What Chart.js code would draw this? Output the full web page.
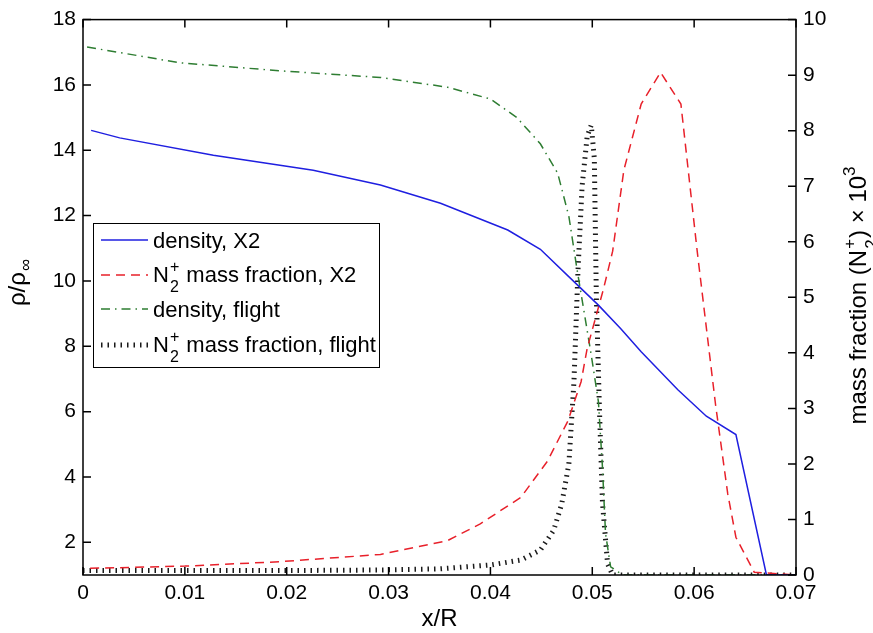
<!DOCTYPE html>
<html lang="en">
<head>
<meta charset="UTF-8">
<title>Density and N2+ mass fraction</title>
<script src="https://cdn.jsdelivr.net/npm/chart.js"></script>
<style>
  html, body { margin: 0; padding: 0; background: #fff; }
  #wrap { width: 873px; height: 633px; }
</style>
</head>
<body>
<div id="wrap"><canvas id="chart" width="873" height="633"></canvas></div>
<script>
// values (x/R, rho/rho_inf on the left, mass fraction x 1e3 on the right)
const xDensityX2 = [0.0008, 0.0036, 0.0128, 0.0226, 0.0292, 0.0351, 0.0417, 0.0449, 0.0482, 0.0506, 0.0528, 0.0548, 0.0584, 0.0612, 0.0641, 0.0671, 0.070];
const densityX2  = [14.61, 14.38, 13.85, 13.39, 12.94, 12.38, 11.56, 10.97, 9.98, 9.26, 8.54, 7.83, 6.67, 5.86, 5.30, 1.0, 1.0];

const xN2X2 = [0.0007, 0.010, 0.0194, 0.0292, 0.0358, 0.039, 0.043, 0.0456, 0.0476, 0.0489, 0.0495, 0.0511, 0.052, 0.0531, 0.0548, 0.0567, 0.0587, 0.0603, 0.0621, 0.0633, 0.0641, 0.0659, 0.070];
const n2X2  = [0.12, 0.16, 0.24, 0.37, 0.62, 0.92, 1.40, 2.05, 2.77, 3.48, 4.08, 5.15, 5.83, 7.29, 8.48, 9.05, 8.48, 5.83, 3.07, 1.46, 0.68, 0.05, 0];

const xDensityFlight = [0.0004, 0.0095, 0.0194, 0.0292, 0.0358, 0.040, 0.0426, 0.0449, 0.0466, 0.0477, 0.0485, 0.0499, 0.0506, 0.051, 0.0513, 0.0518, 0.053, 0.070];
const densityFlight  = [17.16, 16.68, 16.43, 16.23, 15.93, 15.57, 15.0, 14.2, 13.3, 11.98, 10.36, 7.73, 6.31, 4.29, 2.27, 1.25, 1.0, 1.0];

const xN2Flight = [0, 0.010, 0.020, 0.0292, 0.035, 0.040, 0.043, 0.0449, 0.0462, 0.047, 0.0477, 0.048, 0.0482, 0.0486, 0.049, 0.0495, 0.0499, 0.0502, 0.0504, 0.0507, 0.051, 0.0515, 0.052, 0.070];
const n2Flight  = [0.08, 0.08, 0.08, 0.09, 0.11, 0.18, 0.27, 0.45, 0.8, 1.28, 2.0, 2.89, 3.48, 5.5, 7.0, 7.9, 8.1, 7.5, 5.0, 3.0, 1.3, 0.2, 0, 0];

const xTicks = [0, 0.01, 0.02, 0.03, 0.04, 0.05, 0.06, 0.07];
const xTickLabels = ['0', '0.01', '0.02', '0.03', '0.04', '0.05', '0.06', '0.07'];
const leftTicks = [2, 4, 6, 8, 10, 12, 14, 16, 18];
const rightTicks = [0, 1, 2, 3, 4, 5, 6, 7, 8, 9, 10];

const FONT = 'Arial, "Liberation Sans", sans-serif';

function pts(xs, ys) { return xs.map((x, i) => ({ x: x, y: ys[i] })); }

// N with stacked superscript + and subscript 2, returns x after it
function drawN2(ctx, x, y, size, sub) {
  ctx.font = size + 'px ' + FONT;
  ctx.fillText('N', x, y);
  x += ctx.measureText('N').width + 1;
  ctx.font = sub + 'px ' + FONT;
  ctx.fillText('+', x, y - size * 0.45);
  ctx.fillText('2', x, y + size * 0.46);
  x += Math.max(ctx.measureText('+').width, ctx.measureText('2').width) + 1;
  ctx.font = size + 'px ' + FONT;
  return x;
}

const decor = {
  id: 'decor',
  afterDraw(chart) {
    const ctx = chart.ctx;
    const a = chart.chartArea;
    const sx = chart.scales.x, sy = chart.scales.y, sr = chart.scales.y1;
    ctx.save();
    ctx.strokeStyle = '#000';
    ctx.lineWidth = 1.5;
    ctx.strokeRect(a.left, a.top, a.right - a.left, a.bottom - a.top);
    // inward ticks
    const tl = 8;
    ctx.beginPath();
    xTicks.forEach(v => {
      const p = sx.getPixelForValue(v);
      ctx.moveTo(p, a.bottom); ctx.lineTo(p, a.bottom - tl);
      ctx.moveTo(p, a.top); ctx.lineTo(p, a.top + tl);
    });
    leftTicks.forEach(v => {
      const p = sy.getPixelForValue(v);
      ctx.moveTo(a.left, p); ctx.lineTo(a.left + tl, p);
    });
    rightTicks.forEach(v => {
      const p = sr.getPixelForValue(v);
      ctx.moveTo(a.right, p); ctx.lineTo(a.right - tl, p);
    });
    ctx.stroke();

    // legend
    const lx = 93, ly = 223, lw = 286, lh = 144;
    ctx.fillStyle = '#fff';
    ctx.fillRect(lx, ly, lw, lh);
    ctx.lineWidth = 1;
    ctx.strokeRect(lx + 0.5, ly + 0.5, lw, lh);
    const rows = [
      { y: 240, base: 248, color: '#1f1fe0', width: 1.5, dash: [], text: 'density, X2', n2: false },
      { y: 275, base: 282, color: '#e8202a', width: 1.5, dash: [9, 6], text: ' mass fraction, X2', n2: true },
      { y: 309, base: 317, color: '#2e7d32', width: 1.5, dash: [9, 5, 1.5, 5], text: 'density, flight', n2: false },
      { y: 345, base: 352, color: '#1a1a1a', width: 5, dash: [1.5, 5], text: ' mass fraction, flight', n2: true }
    ];
    rows.forEach(r => {
      ctx.save();
      ctx.strokeStyle = r.color;
      ctx.lineWidth = r.width;
      ctx.setLineDash(r.dash);
      ctx.beginPath();
      ctx.moveTo(101, r.y); ctx.lineTo(148, r.y);
      ctx.stroke();
      ctx.restore();
      ctx.fillStyle = '#000';
      ctx.textBaseline = 'alphabetic';
      ctx.textAlign = 'left';
      let x = 153;
      if (r.n2) x = drawN2(ctx, x, r.base, 22, 16);
      ctx.font = '22px ' + FONT;
      ctx.fillText(r.text, x, r.base);
    });

    // x axis title
    ctx.fillStyle = '#000';
    ctx.textAlign = 'center';
    ctx.textBaseline = 'alphabetic';
    ctx.font = '24px ' + FONT;
    ctx.fillText('x/R', (a.left + a.right) / 2, 626);

    // left axis title  rho/rho_inf
    ctx.save();
    ctx.translate(25, 283);
    ctx.rotate(-Math.PI / 2);
    ctx.textAlign = 'left';
    const main = '\u03c1/\u03c1';
    ctx.font = '17px ' + FONT;
    const infW = ctx.measureText('\u221e').width;
    ctx.font = '24px ' + FONT;
    const mw = ctx.measureText(main).width;
    const sx0 = -(mw + infW) / 2;
    ctx.fillText(main, sx0, 0);
    ctx.font = '17px ' + FONT;
    ctx.fillText('\u221e', sx0 + mw + 1, 6);
    ctx.restore();

    // right axis title  mass fraction (N2+) x 10^3
    ctx.save();
    ctx.translate(866, 295);
    ctx.rotate(-Math.PI / 2);
    ctx.textAlign = 'left';
    ctx.font = '24px ' + FONT;
    const p1 = 'mass fraction (';
    const p2 = ') \u00d7 10';
    const w1 = ctx.measureText(p1).width;
    const wN = ctx.measureText('N').width;
    const w2 = ctx.measureText(p2).width;
    ctx.font = '17px ' + FONT;
    const wS = ctx.measureText('+').width + 2;
    const w3 = ctx.measureText('3').width;
    let x = -(w1 + wN + 1 + wS + w2 + w3) / 2;
    ctx.font = '24px ' + FONT;
    ctx.fillText(p1, x, 0);
    x += w1;
    x = drawN2(ctx, x, 0, 24, 17);
    ctx.fillText(p2, x, 0);
    x += w2;
    ctx.font = '17px ' + FONT;
    ctx.fillText('3', x, -11);
    ctx.restore();

    ctx.restore();
  }
};

new Chart(document.getElementById('chart').getContext('2d'), {
  type: 'line',
  data: {
    datasets: [
      { label: 'density, X2', data: pts(xDensityX2, densityX2), yAxisID: 'y',
        borderColor: '#1f1fe0', borderWidth: 1.5, pointRadius: 0, tension: 0 },
      { label: 'N2+ mass fraction, X2', data: pts(xN2X2, n2X2), yAxisID: 'y1',
        borderColor: '#e8202a', borderWidth: 1.5, borderDash: [9, 6], pointRadius: 0, tension: 0 },
      { label: 'density, flight', data: pts(xDensityFlight, densityFlight), yAxisID: 'y',
        borderColor: '#2e7d32', borderWidth: 1.5, borderDash: [9, 5, 1.5, 5], pointRadius: 0, tension: 0 },
      { label: 'N2+ mass fraction, flight', data: pts(xN2Flight, n2Flight), yAxisID: 'y1',
        borderColor: '#1a1a1a', borderWidth: 5, borderDash: [1.5, 5], borderCapStyle: 'butt', pointRadius: 0, tension: 0 }
    ]
  },
  options: {
    responsive: false,
    animation: false,
    layout: { padding: { top: 15, left: 0, right: 0, bottom: 0 } },
    plugins: { legend: { display: false }, tooltip: { enabled: false } },
    scales: {
      x: {
        type: 'linear', min: 0, max: 0.07,
        afterBuildTicks: s => { s.ticks = xTicks.map(v => ({ value: v })); },
        afterFit: s => { s.height = 58; },
        ticks: { callback: (v, i) => xTickLabels[i], color: '#000', font: { family: FONT, size: 21 }, padding: 6, maxRotation: 0 },
        grid: { display: false, drawTicks: false },
        border: { display: false }
      },
      y: {
        position: 'left', min: 1, max: 18,
        afterBuildTicks: s => { s.ticks = leftTicks.map(v => ({ value: v })); },
        afterFit: s => { s.width = 83; },
        ticks: { color: '#000', font: { family: FONT, size: 21 }, padding: 7 },
        grid: { display: false, drawTicks: false },
        border: { display: false }
      },
      y1: {
        position: 'right', min: 0, max: 10,
        afterBuildTicks: s => { s.ticks = rightTicks.map(v => ({ value: v })); },
        afterFit: s => { s.width = 77; },
        ticks: { color: '#000', font: { family: FONT, size: 21 }, padding: 7 },
        grid: { display: false, drawTicks: false },
        border: { display: false }
      }
    }
  },
  plugins: [decor]
});
</script>
</body>
</html>
